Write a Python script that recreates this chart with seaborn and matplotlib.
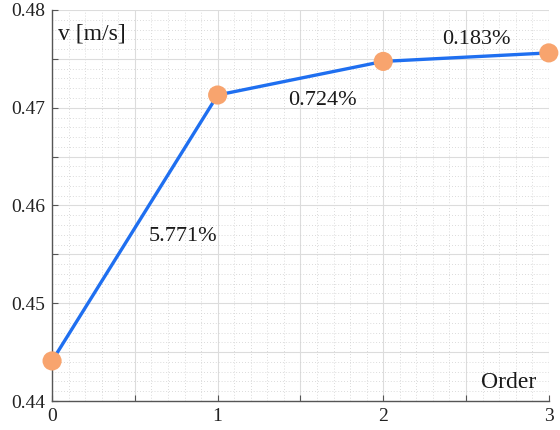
import matplotlib
matplotlib.use("Agg")
import matplotlib.pyplot as plt
import seaborn as sns
import pandas as pd
from matplotlib.ticker import MultipleLocator, FuncFormatter

order = [0, 1, 2, 3]
velocity = [0.44410, 0.47130, 0.47474, 0.47561]
change_labels = ["5.771%", "0.724%", "0.183%"]
label_x = [0.79, 1.635, 2.56]
label_y = [0.4568, 0.4707, 0.4770]

sns.set_theme(style="white")
plt.rcParams['font.family'] = ['Liberation Serif', 'DejaVu Serif']

df = pd.DataFrame({"Order": order, "v": velocity})

fig = plt.figure(figsize=(5.6, 4.3), dpi=100)
ax = fig.add_axes([0.093, 0.0674, 0.887, 0.9094])

sns.lineplot(data=df, x="Order", y="v", ax=ax, color="#1f6ff0", linewidth=2.4,
             zorder=3)
sns.scatterplot(data=df, x="Order", y="v", ax=ax, color="#f8a46e", s=190,
                edgecolor="none", zorder=4, clip_on=False)

ax.set_xlim(0, 3)
ax.set_ylim(0.44, 0.48)
ax.xaxis.set_major_locator(MultipleLocator(0.5))
ax.xaxis.set_minor_locator(MultipleLocator(0.1))
ax.yaxis.set_major_locator(MultipleLocator(0.005))
ax.yaxis.set_minor_locator(MultipleLocator(0.001))
ax.xaxis.set_major_formatter(FuncFormatter(lambda v, p: f"{v:.0f}" if abs(v - round(v)) < 1e-6 else ""))
ax.yaxis.set_major_formatter(FuncFormatter(lambda v, p: f"{v:.2f}" if abs(v * 100 - round(v * 100)) < 1e-6 else ""))

ax.grid(which="major", color="#dcdcdc", linewidth=0.8, linestyle="-")
ax.grid(which="minor", color="#cfcfcf", linewidth=0.6, linestyle=(0, (1, 2.5)))
ax.set_axisbelow(True)

for s in ["top", "right"]:
    ax.spines[s].set_visible(False)
for s in ["left", "bottom"]:
    ax.spines[s].set_color("#555555")
    ax.spines[s].set_linewidth(1.0)

ax.tick_params(which="major", direction="in", length=4, width=0.8, color="#555555",
               labelsize=14, labelcolor="#222222", left=True, bottom=True, pad=5)
ax.tick_params(which="minor", length=0)

ax.set_xlabel("")
ax.set_ylabel("")

for x, y, t in zip(label_x, label_y, change_labels):
    ax.text(x, y, t, fontsize=16, ha="center", va="center", color="#1a1a1a", zorder=5)

ax.text(0.012, 0.966, "v [m/s]", transform=ax.transAxes, fontsize=17,
        ha="left", va="top", color="#1a1a1a")
ax.text(0.975, 0.02, "Order", transform=ax.transAxes, fontsize=17,
        ha="right", va="bottom", color="#1a1a1a")

fig.savefig("out.png", dpi=100)
